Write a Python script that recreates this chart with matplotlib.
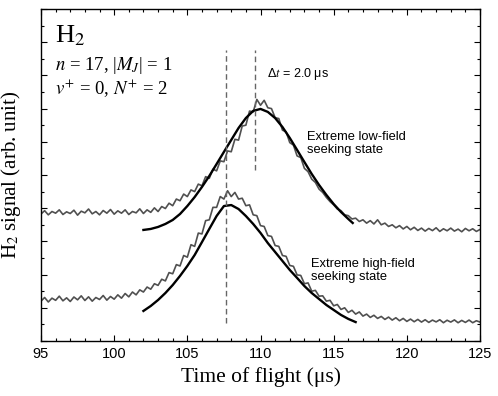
import numpy as np
import matplotlib
matplotlib.use('Agg')
from matplotlib import pyplot as plt
from matplotlib.ticker import MultipleLocator, NullFormatter

plt.rcParams['font.family'] = ['Liberation Sans', 'DejaVu Sans']
plt.rcParams['mathtext.fontset'] = 'stix'

# time axis of the measured traces (us), 0.25 us steps
t_start, t_step = 95.0, 0.25

# measured signal, extreme low-field seeking state (upper trace)
low_field_signal = [
    7.65, 7.85, 7.60, 7.80, 7.70, 7.90, 7.62, 7.78, 7.68, 7.88,
    7.58, 7.82, 7.72, 7.95, 7.66, 7.80, 7.60, 7.86, 7.70, 7.92,
    7.64, 7.84, 7.70, 7.90, 7.62, 7.80, 7.72, 7.96, 7.68, 7.90,
    7.75, 8.02, 7.80, 8.10, 7.98, 8.30, 8.15, 8.55, 8.45, 8.85,
    8.70, 9.10, 9.00, 9.45, 9.35, 9.90, 9.80, 10.35, 10.25, 10.85,
    10.80, 11.45, 11.40, 12.15, 12.10, 12.95, 13.00, 13.85, 13.80, 14.55,
    14.20, 14.50, 14.05, 14.00, 13.45, 13.40, 12.70, 12.60, 11.95, 11.80,
    11.15, 11.05, 10.40, 10.20, 9.75, 9.55, 9.15, 8.95, 8.65, 8.40,
    8.20, 7.95, 7.85, 7.60, 7.55, 7.35, 7.40, 7.20, 7.30, 7.10,
    7.25, 7.05, 7.30, 7.00, 7.10, 6.90, 7.00, 6.82, 6.95, 6.75,
    6.90, 6.70, 6.85, 6.66, 6.80, 6.62, 6.78, 6.65, 6.82, 6.60,
    6.76, 6.64, 6.80, 6.62, 6.74, 6.58, 6.78, 6.64, 6.76, 6.60,
    6.72,
]

# measured signal, extreme high-field seeking state (lower trace)
high_field_signal = [
    2.40, 2.62, 2.35, 2.58, 2.45, 2.70, 2.42, 2.60, 2.38, 2.65,
    2.48, 2.72, 2.44, 2.66, 2.40, 2.62, 2.50, 2.74, 2.46, 2.68,
    2.52, 2.78, 2.58, 2.86, 2.66, 2.95, 2.78, 3.08, 2.95, 3.25,
    3.12, 3.45, 3.35, 3.72, 3.62, 4.12, 4.05, 4.60, 4.52, 5.15,
    5.05, 5.80, 5.70, 6.50, 6.45, 7.25, 7.30, 8.05, 8.05, 8.70,
    8.55, 9.05, 8.70, 8.95, 8.55, 8.60, 8.15, 8.20, 7.60, 7.55,
    6.95, 6.90, 6.35, 6.30, 5.75, 5.70, 5.15, 5.10, 4.55, 4.50,
    3.98, 3.95, 3.45, 3.50, 3.00, 3.05, 2.70, 2.72, 2.40, 2.45,
    2.12, 2.20, 1.90, 2.00, 1.72, 1.85, 1.62, 1.75, 1.50, 1.62,
    1.42, 1.55, 1.36, 1.48, 1.30, 1.44, 1.26, 1.40, 1.22, 1.36,
    1.18, 1.32, 1.16, 1.30, 1.14, 1.28, 1.12, 1.26, 1.15, 1.28,
    1.10, 1.25, 1.14, 1.27, 1.10, 1.24, 1.12, 1.26, 1.10, 1.22,
    1.14,
]

# simulated curves
low_fit_t = [102.0, 102.5, 103.0, 103.5, 104.0, 104.5, 105.0, 105.5, 106.0, 106.5,
             107.0, 107.5, 108.0, 108.5, 109.0, 109.5, 110.0, 110.5, 111.0, 111.5,
             112.0, 112.5, 113.0, 113.5, 114.0, 114.5, 115.0, 115.5, 116.0, 116.3]
low_fit = [6.69, 6.75, 6.87, 7.05, 7.29, 7.65, 8.13, 8.67, 9.28, 9.94,
           10.66, 11.39, 12.11, 12.83, 13.43, 13.86, 13.98, 13.80, 13.43, 12.89,
           12.23, 11.51, 10.78, 10.06, 9.40, 8.80, 8.25, 7.77, 7.35, 7.11]

high_fit_t = [102.0, 102.5, 103.0, 103.5, 104.0, 104.5, 105.0, 105.5, 106.0, 106.5,
              107.0, 107.5, 108.0, 108.5, 109.0, 109.5, 110.0, 110.5, 111.0, 111.5,
              112.0, 112.5, 113.0, 113.5, 114.0, 114.5, 115.0, 115.5, 116.0, 116.5]
high_fit = [1.81, 2.11, 2.47, 2.89, 3.37, 3.92, 4.52, 5.18, 5.96, 6.75,
            7.53, 8.13, 8.19, 7.95, 7.53, 7.05, 6.51, 5.90, 5.36, 4.82,
            4.28, 3.80, 3.31, 2.89, 2.53, 2.17, 1.87, 1.57, 1.33, 1.14]

# arrival time markers (us)
t_high_peak = 107.65
t_low_peak = 109.65

t = t_start + t_step * np.arange(len(low_field_signal))

fig = plt.figure(figsize=(4.98, 3.96), dpi=100)
ax = fig.add_axes([0.0823, 0.1389, 0.8816, 0.8384])

ax.plot(t, low_field_signal, color='#505050', lw=1.2)
ax.plot(t, high_field_signal, color='#505050', lw=1.2)
ax.plot(low_fit_t, low_fit, color='black', lw=1.7)
ax.plot(high_fit_t, high_fit, color='black', lw=1.7)

ax.plot([t_high_peak, t_high_peak], [1.08, 17.5], color='#666666', lw=1.0, dashes=(4, 2.5))
ax.plot([t_low_peak, t_low_peak], [10.3, 17.5], color='#666666', lw=1.0, dashes=(4, 2.5))

ax.set_xlim(95, 125)
ax.set_ylim(0, 20)
ax.xaxis.set_major_locator(MultipleLocator(5))
ax.xaxis.set_minor_locator(MultipleLocator(1))
ax.yaxis.set_major_locator(MultipleLocator(2))
ax.yaxis.set_minor_locator(MultipleLocator(1))
ax.yaxis.set_major_formatter(NullFormatter())
ax.tick_params(which='both', direction='in', top=True, right=True, width=0.8)
ax.tick_params(which='major', length=4, labelsize=10.5, pad=4)
ax.tick_params(which='minor', length=2.5)
for sp in ax.spines.values():
    sp.set_linewidth(1.0)

ax.set_xlabel('Time of flight (μs)', family='Liberation Serif', fontsize=15.5, labelpad=5)
ax.set_ylabel('H$_2$ signal (arb. unit)', family='Liberation Serif', fontsize=15)
ax.yaxis.set_label_coords(-0.041, 0.5)

ax.text(0.032, 0.898, 'H$_2$', transform=ax.transAxes, family='Liberation Serif',
        fontsize=19, va='baseline')
ax.text(0.032, 0.816, '$n$ = 17, |$M_J$| = 1', transform=ax.transAxes,
        family='Liberation Serif', fontsize=13.5, va='baseline')
ax.text(0.032, 0.741, '$v^{+}$ = 0, $N^{+}$ = 2', transform=ax.transAxes,
        family='Liberation Serif', fontsize=13.5, va='baseline')

ax.text(110.45, 15.9, 'Δ$t$ = 2.0 μs', fontsize=9, va='baseline')
ax.text(113.18, 12.65, 'Extreme low-field\nseeking state', fontsize=9.3,
        va='top', linespacing=1.15)
ax.text(113.45, 5.0, 'Extreme high-field\nseeking state', fontsize=9.3,
        va='top', linespacing=1.15)

fig.savefig('out.png', dpi=100)
